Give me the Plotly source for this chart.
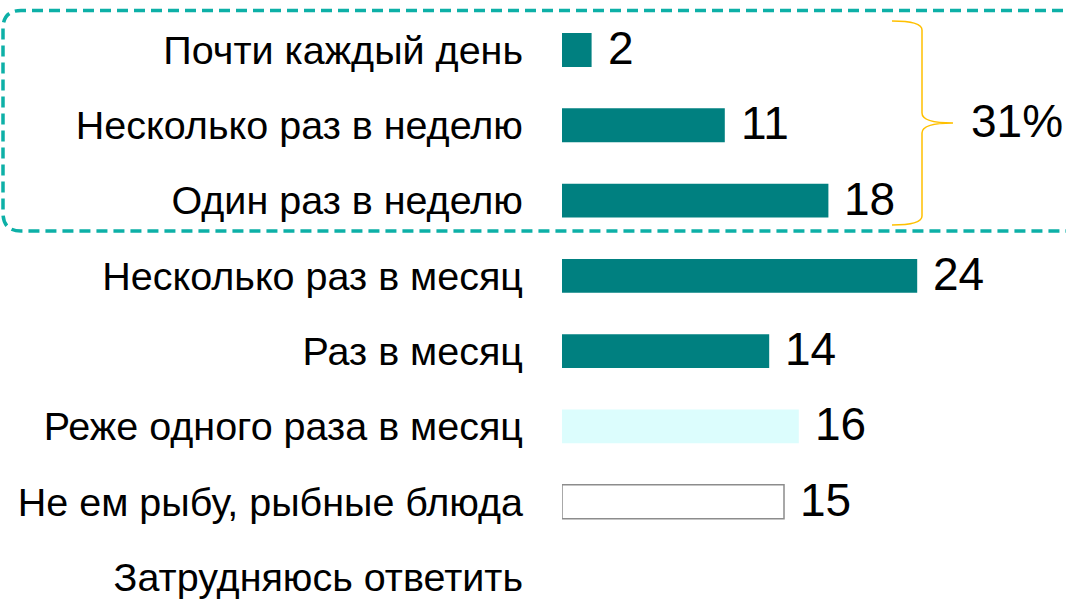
import plotly.graph_objects as go

categories = [
    "Почти каждый день",
    "Несколько раз в неделю",
    "Один раз в неделю",
    "Несколько раз в месяц",
    "Раз в месяц",
    "Реже одного раза в месяц",
    "Не ем рыбу, рыбные блюда",
    "Затрудняюсь ответить",
]
values = [2, 11, 18, 24, 14, 16, 15, None]
group_size = 3  # first three answers are bracketed

# styles
bar_colors = ["#008080"] * 5 + ["#DCFDFD", "#FFFFFF", "#FFFFFF"]
line_colors = ["#008080"] * 5 + ["#DCFDFD", "#8C8C8C", "#8C8C8C"]
line_widths = [0] * 5 + [0, 1.5, 1.5]

W, H = 1066, 599
ML = 562
PW = W - ML
PX_PER_UNIT = 14.8
XMAX = PW / PX_PER_UNIT

# y range so that rows sit at the reference pixel rows
row0, row_last = 50, 577
step = (row_last - row0) / (len(categories) - 1)
y_top = -row0 / step
y_bot = y_top + H / step

LABEL_FONT = "Liberation Sans, Arial, sans-serif"

fig = go.Figure()
fig.add_trace(go.Bar(
    x=values,
    y=categories,
    orientation="h",
    width=0.45,
    marker=dict(color=bar_colors, line=dict(color=line_colors, width=line_widths)),
    hoverinfo="skip",
))

annotations = []
for c, v in zip(categories, values):
    if v is None:
        continue
    annotations.append(dict(
        x=v, y=c, xref="x", yref="y", text=str(v), showarrow=False,
        xanchor="left", yanchor="middle", xshift=14, yshift=2,
        font=dict(family=LABEL_FONT, size=46, color="black"),
    ))


def px_x(p):
    return (p - ML) / PW


def px_y(p):
    return 1 - p / H


# dashed rounded box around the first three rows
left, top, bottom, right, r = 3, 10.5, 231, 1080, 18
box_path = (
    f"M {px_x(right)},{px_y(top)} "
    f"L {px_x(left + r)},{px_y(top)} "
    f"Q {px_x(left)},{px_y(top)} {px_x(left)},{px_y(top + r)} "
    f"L {px_x(left)},{px_y(bottom - r)} "
    f"Q {px_x(left)},{px_y(bottom)} {px_x(left + r)},{px_y(bottom)} "
    f"L {px_x(right)},{px_y(bottom)}"
)

# curly brace
bx0, bx1, btip = 892, 922, 953
by0, bmid, by1 = 21, 123, 225
brace_path = (
    f"M {px_x(bx0)},{px_y(by0)} "
    f"Q {px_x(bx1)},{px_y(by0)} {px_x(bx1)},{px_y(by0 + 9)} "
    f"L {px_x(bx1)},{px_y(bmid - 10)} "
    f"Q {px_x(bx1)},{px_y(bmid)} {px_x(btip)},{px_y(bmid)} "
    f"Q {px_x(bx1)},{px_y(bmid)} {px_x(bx1)},{px_y(bmid + 10)} "
    f"L {px_x(bx1)},{px_y(by1 - 9)} "
    f"Q {px_x(bx1)},{px_y(by1)} {px_x(bx0)},{px_y(by1)}"
)

shapes = [
    dict(type="path", path=box_path, xref="paper", yref="paper",
         line=dict(color="#0DB0A7", width=3.5, dash="11px,6px")),
    dict(type="path", path=brace_path, xref="paper", yref="paper",
         line=dict(color="#FFC000", width=1.5)),
]

annotations.append(dict(
    x=px_x(969), y=px_y(bmid), xref="paper", yref="paper",
    text=f"{sum(values[:group_size])}%", showarrow=False,
    xanchor="left", yanchor="middle", yshift=2,
    font=dict(family=LABEL_FONT, size=46, color="black"),
))

fig.update_layout(
    width=W, height=H,
    margin=dict(l=ML, r=0, t=0, b=0),
    paper_bgcolor="white", plot_bgcolor="white",
    showlegend=False,
    shapes=shapes,
    annotations=annotations,
    xaxis=dict(range=[0, XMAX], visible=False, fixedrange=True),
    yaxis=dict(
        range=[y_bot, y_top], type="category",
        showgrid=False, zeroline=False, showline=False,
        ticks="", ticklabelstandoff=38,
        tickfont=dict(family=LABEL_FONT, size=39.5, color="black"),
        fixedrange=True,
    ),
)

fig.write_html("out.html")
